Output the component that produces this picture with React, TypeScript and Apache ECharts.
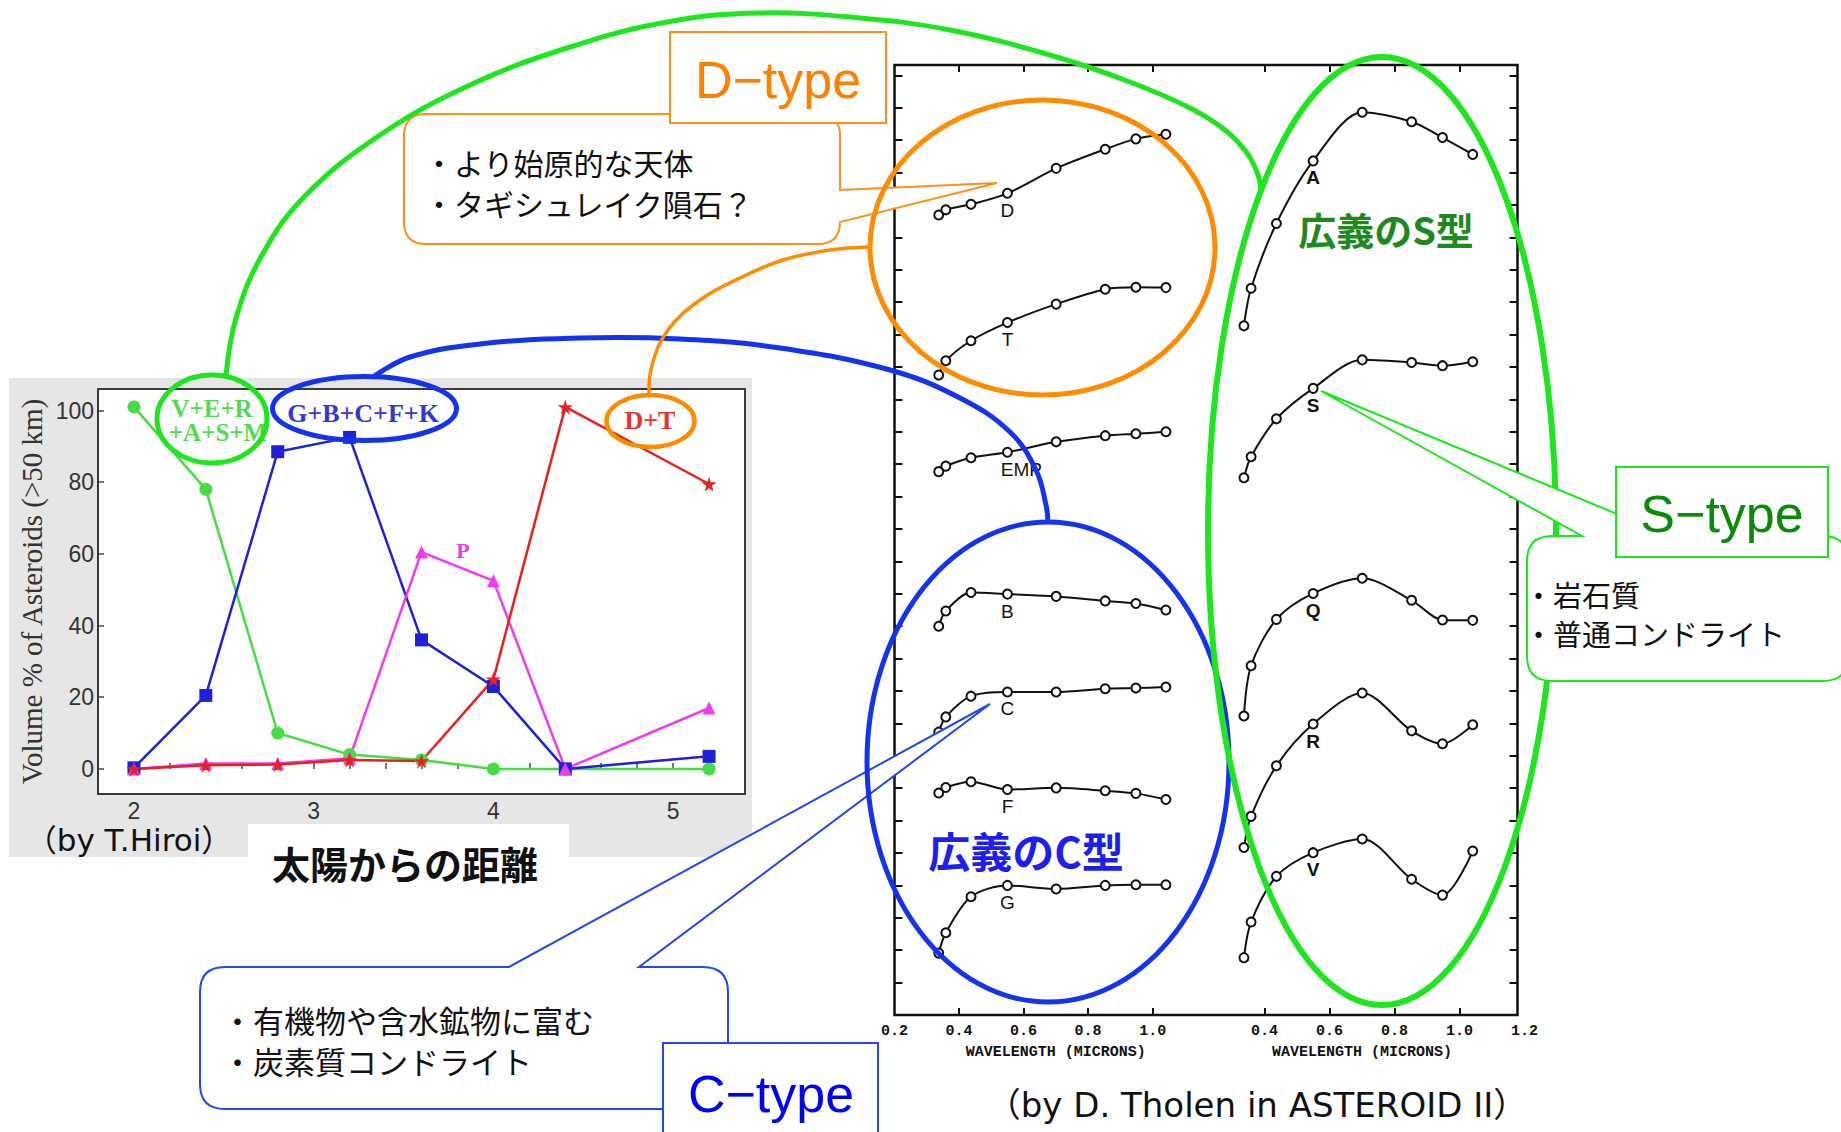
import React, { useEffect, useRef } from "react";
import * as echarts from "echarts";

// ---------- Left chart (T. Hiroi): volume % of asteroids (>50 km) vs distance from the Sun ----------
const distances = [2.0, 2.4, 2.8, 3.2, 3.6, 4.0, 4.4, 5.2];
const vEraSmValues = [101, 78, 10, 4, 2.5, 0, 0, 0]; // V+E+R+A+S+M
const gbcfkValues = [0.3, 20.5, 88.5, 92.5, 36, 23, 0, 3.5]; // G+B+C+F+K
const pValues = [0, 1.5, 1.5, 3, 60.5, 52.5, 0, 17]; // P
const dtValues = [0, 1, 1.2, 2.5, 2.2, 25, 101, 79.5]; // D+T
const volumeTicks = [0, 20, 40, 60, 80, 100];

// ---------- Right chart (D. Tholen): ECAS spectra, offset relative reflectance (tick units) ----------
const ecasWavelengths = [0.337, 0.359, 0.437, 0.55, 0.701, 0.853, 0.948, 1.041];
const spectrumD = [24.69, 24.85, 25.02, 25.36, 26.13, 26.72, 27.04, 27.18];
const spectrumT = [19.75, 20.19, 20.81, 21.37, 21.94, 22.4, 22.46, 22.45];
const spectrumEMP = [16.77, 16.94, 17.2, 17.37, 17.69, 17.88, 17.94, 18.0];
const spectrumB = [12.0, 12.47, 13.04, 12.99, 12.92, 12.78, 12.7, 12.5];
const spectrumC = [8.73, 9.2, 9.84, 9.97, 9.97, 10.07, 10.09, 10.12];
const spectrumF = [6.85, 7.02, 7.2, 6.96, 7.01, 6.92, 6.84, 6.65];
const spectrumG = [1.91, 2.54, 3.65, 4.0, 3.89, 4.0, 4.02, 4.02];
const spectrumA = [21.27, 22.43, 24.43, 26.36, 27.86, 27.57, 27.08, 26.56];
const spectrumS = [16.58, 17.23, 18.4, 19.34, 20.22, 20.14, 20.04, 20.16];
const spectrumQ = [9.23, 10.78, 12.21, 13.01, 13.48, 12.8, 12.19, 12.18];
const spectrumR = [5.17, 6.13, 7.69, 8.98, 9.94, 8.77, 8.37, 8.96];
const spectrumV = [1.77, 2.87, 4.28, 5.01, 5.43, 4.19, 3.7, 5.06];
const wavelengthTicks = [0.4, 0.6, 0.8, 1.0];
const wavelengthLabelsLeft = [0.2, 0.4, 0.6, 0.8, 1.0];
const wavelengthLabelsRight = [0.4, 0.6, 0.8, 1.0, 1.2];

const JP = '"Noto Sans CJK JP", sans-serif';
const LATIN_JP = '"DejaVu Sans", "Noto Sans CJK JP", sans-serif';
const STAR = "path://M50,0 L61,35 L98,35 L68,57 L79,91 L50,70 L21,91 L32,57 L2,35 L39,35 Z";

const calloutPaths: Record<string, string> = {
  calloutD:
    "M426 114 L818 114 Q840 114 840 136 L840 190 L997 183 L840 222 Q840 244 818 244 L426 244 Q404 244 404 222 L404 136 Q404 114 426 114 Z",
  calloutC:
    "M225 967 L509 967 L990 704 L639 967 L703 967 Q728 967 728 992 L728 1084 Q728 1109 703 1109 L225 1109 Q200 1109 200 1084 L200 992 Q200 967 225 967 Z",
  calloutS:
    "M1552 536 L1582 536 L1321 391 L1670 536 L1823 536 Q1848 536 1848 561 L1848 656 Q1848 681 1823 681 L1552 681 Q1527 681 1527 656 L1527 561 Q1527 536 1552 536 Z",
};

function pairs(xs: number[], ys: number[]) {
  return xs.map((x, i) => [x, ys[i]]);
}

function txt(x: number, y: number, text: string, size: number, color: string, opts: any = {}) {
  return {
    type: "text",
    x,
    y,
    z: opts.z ?? 13,
    style: {
      text,
      fill: color,
      fontSize: size,
      fontFamily: opts.family ?? JP,
      fontWeight: opts.weight ?? "normal",
      align: opts.align ?? "left",
      verticalAlign: "middle",
      textAlign: opts.align ?? "left",
      textVerticalAlign: "middle",
    },
  };
}

function ell(cx: number, cy: number, rx: number, ry: number, color: string, w: number) {
  return {
    type: "ellipse",
    z: 10,
    shape: { cx, cy, rx, ry },
    style: { fill: "none", stroke: color, lineWidth: w },
  };
}

function curve(points: number[][], color: string, w: number) {
  return {
    type: "polyline",
    z: 10,
    shape: { points, smooth: 0.4 },
    style: { fill: "none", stroke: color, lineWidth: w },
  };
}

function box(x: number, y: number, w: number, h: number, stroke: string, z = 12) {
  return {
    type: "rect",
    z,
    shape: { x, y, width: w, height: h },
    style: { fill: "#fff", stroke, lineWidth: 2 },
  };
}

function spectrumSeries(name: string, values: number[], xi: number, yi: number, bold: boolean, offsetX = 0) {
  return {
    type: "line",
    name,
    xAxisIndex: xi,
    yAxisIndex: yi,
    data: pairs(ecasWavelengths, values),
    smooth: 0.3,
    symbol: "emptyCircle",
    symbolSize: 9,
    showAllSymbol: true,
    lineStyle: { color: "#111", width: 2 },
    itemStyle: { color: "#111", borderColor: "#111", borderWidth: 2 },
    label: {
      show: true,
      position: "bottom",
      distance: 2,
      offset: [offsetX, 0],
      fontSize: 19,
      fontWeight: bold ? "bold" : "normal",
      fontFamily: "Liberation Sans",
      color: "#111",
      formatter: (p: any) => (p.dataIndex === 3 ? p.seriesName : ""),
    },
    z: 3,
  };
}

function wavelengthAxes(gridIndex: number, labels: number[]) {
  const font = { fontFamily: "Liberation Mono", fontWeight: "bold", fontSize: 15, color: "#111" };
  return [
    {
      type: "value",
      gridIndex,
      position: "bottom",
      min: 0.2,
      max: 1.2,
      axisLine: { show: false },
      splitLine: { show: false },
      axisTick: { show: true, inside: true, length: 7, customValues: wavelengthTicks, lineStyle: { color: "#111", width: 2 } },
      axisLabel: { show: true, margin: 9, customValues: labels, formatter: (v: number) => v.toFixed(1), ...font },
      name: "WAVELENGTH (MICRONS)",
      nameLocation: "middle",
      nameGap: 30,
      nameTextStyle: font,
    },
    {
      type: "value",
      gridIndex,
      position: "top",
      min: 0.2,
      max: 1.2,
      axisLine: { show: false },
      splitLine: { show: false },
      axisTick: { show: true, inside: true, length: 7, customValues: wavelengthTicks, lineStyle: { color: "#111", width: 2 } },
      axisLabel: { show: false },
    },
  ];
}

export default function App() {
  const ref = useRef<HTMLDivElement>(null);

  useEffect(() => {
    if (!ref.current) return;
    Object.entries(calloutPaths).forEach(([n, d]) => {
      echarts.graphic.registerShape(n, echarts.graphic.extendPath(d, {}));
    });
    const chart = echarts.init(ref.current, null, { renderer: "svg" });

    const leftSeries = [
      { name: "V+E+R+A+S+M", values: vEraSmValues, color: "#45dd45", symbol: "circle" },
      { name: "G+B+C+F+K", values: gbcfkValues, color: "#2020d8", symbol: "rect" },
      { name: "P", values: pValues, color: "#f03cf0", symbol: "triangle" },
      { name: "D+T", values: dtValues, color: "#e82020", symbol: STAR },
    ].map((s) => ({
      type: "line",
      name: s.name,
      xAxisIndex: 0,
      yAxisIndex: 0,
      data: pairs(distances, s.values),
      symbol: s.symbol,
      symbolSize: s.symbol === STAR ? 15 : 13,
      lineStyle: { color: s.color, width: 2.5 },
      itemStyle: { color: s.color },
      z: 3,
    }));

    const option: any = {
      animation: false,
      backgroundColor: "#ffffff",
      textStyle: { fontFamily: JP },
      grid: [
        { left: 98, top: 389, width: 647, height: 405, show: false },
        { left: 894.5, top: 65, width: 623, height: 950, show: false },
        { left: 894.5, top: 65, width: 322.7, height: 950, show: false },
        { left: 1199.4, top: 65, width: 325, height: 950, show: false },
      ],
      xAxis: [
        {
          type: "value",
          gridIndex: 0,
          min: 1.8,
          max: 5.4,
          interval: 0.2,
          axisLine: { show: false },
          splitLine: { show: false },
          axisTick: { show: true, inside: true, length: 6, lineStyle: { color: "#444", width: 1.5 } },
          axisLabel: {
            margin: 5,
            fontSize: 23,
            color: "#333",
            fontFamily: "Liberation Sans",
            formatter: (v: number) => (Math.abs(v - Math.round(v)) < 1e-6 ? String(Math.round(v)) : ""),
          },
        },
        { type: "value", gridIndex: 1, min: 0, max: 1, show: false },
        ...wavelengthAxes(2, wavelengthLabelsLeft),
        ...wavelengthAxes(3, wavelengthLabelsRight),
      ],
      yAxis: [
        {
          type: "value",
          gridIndex: 0,
          min: -7,
          max: 106,
          axisLine: { show: false },
          splitLine: { show: false },
          axisTick: { show: true, inside: true, length: 6, customValues: volumeTicks, lineStyle: { color: "#444", width: 1.5 } },
          axisLabel: { margin: 4, fontSize: 23, color: "#333", fontFamily: "Liberation Sans", customValues: volumeTicks },
          name: "Volume % of Asteroids (>50 km)",
          nameLocation: "middle",
          nameRotate: 90,
          nameGap: 52,
          nameTextStyle: { fontFamily: "Liberation Serif", fontSize: 29, color: "#333" },
        },
        {
          type: "value",
          gridIndex: 1,
          position: "left",
          min: 0,
          max: 29.32,
          interval: 1,
          axisLine: { show: false },
          splitLine: { show: false },
          axisLabel: { show: false },
          axisTick: { show: true, inside: true, length: 8, lineStyle: { color: "#111", width: 2 } },
        },
        {
          type: "value",
          gridIndex: 1,
          position: "right",
          min: 0,
          max: 29.32,
          interval: 1,
          axisLine: { show: false },
          splitLine: { show: false },
          axisLabel: { show: false },
          axisTick: { show: true, inside: true, length: 8, lineStyle: { color: "#111", width: 2 } },
        },
        { type: "value", gridIndex: 2, min: 0, max: 29.32, show: false },
        { type: "value", gridIndex: 3, min: 0, max: 29.32, show: false },
      ],
      series: [
        ...leftSeries,
        spectrumSeries("D", spectrumD, 2, 3, false),
        spectrumSeries("T", spectrumT, 2, 3, false),
        spectrumSeries("EMP", spectrumEMP, 2, 3, false, 14),
        spectrumSeries("B", spectrumB, 2, 3, false),
        spectrumSeries("C", spectrumC, 2, 3, false),
        spectrumSeries("F", spectrumF, 2, 3, false),
        spectrumSeries("G", spectrumG, 2, 3, false),
        spectrumSeries("A", spectrumA, 4, 4, true),
        spectrumSeries("S", spectrumS, 4, 4, true),
        spectrumSeries("Q", spectrumQ, 4, 4, true),
        spectrumSeries("R", spectrumR, 4, 4, true),
        spectrumSeries("V", spectrumV, 4, 4, true),
      ],
      graphic: [
        // backgrounds
        { type: "rect", z: -10, shape: { x: 9, y: 378, width: 743, height: 479 }, style: { fill: "#e6e6e6" } },
        { type: "rect", z: -9, shape: { x: 98, y: 389, width: 647, height: 405 }, style: { fill: "#ffffff" } },
        { type: "rect", z: -8, shape: { x: 248, y: 824, width: 321, height: 74 }, style: { fill: "#ffffff" } },
        // frames
        { type: "rect", z: 5, shape: { x: 98, y: 389, width: 647, height: 405 }, style: { fill: "none", stroke: "#3a3a3a", lineWidth: 2 } },
        { type: "rect", z: 5, shape: { x: 894.5, y: 65, width: 623, height: 950 }, style: { fill: "none", stroke: "#111", lineWidth: 2.5 } },
        // labels inside left chart
        txt(212, 408, "V+E+R", 25, "#55d855", { family: "Liberation Serif", weight: "bold", align: "center", z: 6 }),
        txt(218, 432, "+A+S+M", 25, "#55d855", { family: "Liberation Serif", weight: "bold", align: "center", z: 6 }),
        txt(363, 413, "G+B+C+F+K", 26, "#3535d5", { family: "Liberation Serif", weight: "bold", align: "center", z: 6 }),
        txt(650, 420, "D+T", 26, "#e63232", { family: "Liberation Serif", weight: "bold", align: "center", z: 6 }),
        txt(463, 550, "P", 22, "#e040e0", { family: "Liberation Serif", weight: "bold", align: "center", z: 6 }),
        // captions
        txt(129, 840, "（by T.Hiroi）", 31, "#111", { family: LATIN_JP, align: "center" }),
        txt(272, 862, "太陽からの距離", 38, "#111", { weight: "bold" }),
        txt(1257, 1105, "（by D. Tholen in ASTEROID II）", 34, "#111", { family: LATIN_JP, align: "center" }),
        // callouts under ellipses
        { type: "calloutD", z: 9, x: 0, y: 0, style: { fill: "#fff", stroke: "#ff9020", lineWidth: 2 } },
        { type: "calloutC", z: 9, x: 0, y: 0, style: { fill: "#fff", stroke: "#2446f0", lineWidth: 2 } },
        // ellipses & connectors
        ell(212, 419, 55, 44, "#1ee61e", 5),
        ell(364.5, 408.5, 92, 32, "#1433f0", 5),
        ell(650.5, 421, 44, 26, "#ff8c00", 4.5),
        ell(1042.5, 247.5, 172.5, 147.5, "#ff8c00", 5),
        ell(1048, 762, 181, 240, "#1433f0", 5),
        ell(1382, 531, 174, 474, "#1ee61e", 6),
        curve(
          [[226, 376], [236, 318], [262, 255], [305, 196], [380, 135], [470, 85], [570, 47], [667, 22], [760, 13], [860, 18], [950, 30], [1050, 55], [1130, 82], [1190, 108], [1225, 130], [1247, 153], [1258, 175], [1261, 192]],
          "#1ee61e",
          5
        ),
        curve(
          [[373, 377], [410, 357], [480, 344], [580, 338], [680, 339], [780, 348], [890, 370], [960, 398], [1010, 432], [1036, 470], [1046, 505], [1048, 522]],
          "#1433f0",
          5
        ),
        curve([[649, 395], [652, 365], [668, 330], [700, 300], [740, 278], [783, 260], [830, 250], [870, 247]], "#ff8c00", 3.5),
        // S callout above ellipse
        { type: "calloutS", z: 11, x: 0, y: 0, style: { fill: "#fff", stroke: "#1ee61e", lineWidth: 2 } },
        // callout texts
        txt(424, 162, "・より始原的な天体", 30, "#111"),
        txt(424, 203, "・タギシュレイク隕石？", 30, "#111"),
        txt(222, 1019, "・有機物や含水鉱物に富む", 31, "#111"),
        txt(222, 1060, "・炭素質コンドライト", 31, "#111"),
        txt(1524, 594, "・岩石質", 29, "#111"),
        txt(1524, 633, "・普通コンドライト", 29, "#111"),
        // type label boxes
        box(670, 32, 216, 91, "#ff9020"),
        txt(778, 80, "D−type", 52, "#ff8000", { family: "Liberation Sans", align: "center" }),
        box(663, 1043, 215, 100, "#2446f0"),
        txt(771, 1094, "C−type", 52, "#0000ff", { family: "Liberation Sans", align: "center" }),
        box(1616, 467, 212, 90, "#1ee61e"),
        txt(1722, 514, "S−type", 52, "#0a8a0a", { family: "Liberation Sans", align: "center" }),
        // group titles
        txt(1386, 228, "広義のS型", 38, "#1e8a1e", { weight: "bold", align: "center" }),
        txt(1026, 849, "広義のC型", 42, "#1e1ef0", { weight: "bold", align: "center" }),
      ],
    };

    chart.setOption(option);
    return () => chart.dispose();
  }, []);

  return (
    <div
      ref={ref}
      style={{ position: "absolute", left: 0, top: 0, width: 1841, height: 1132 }}
    />
  );
}
